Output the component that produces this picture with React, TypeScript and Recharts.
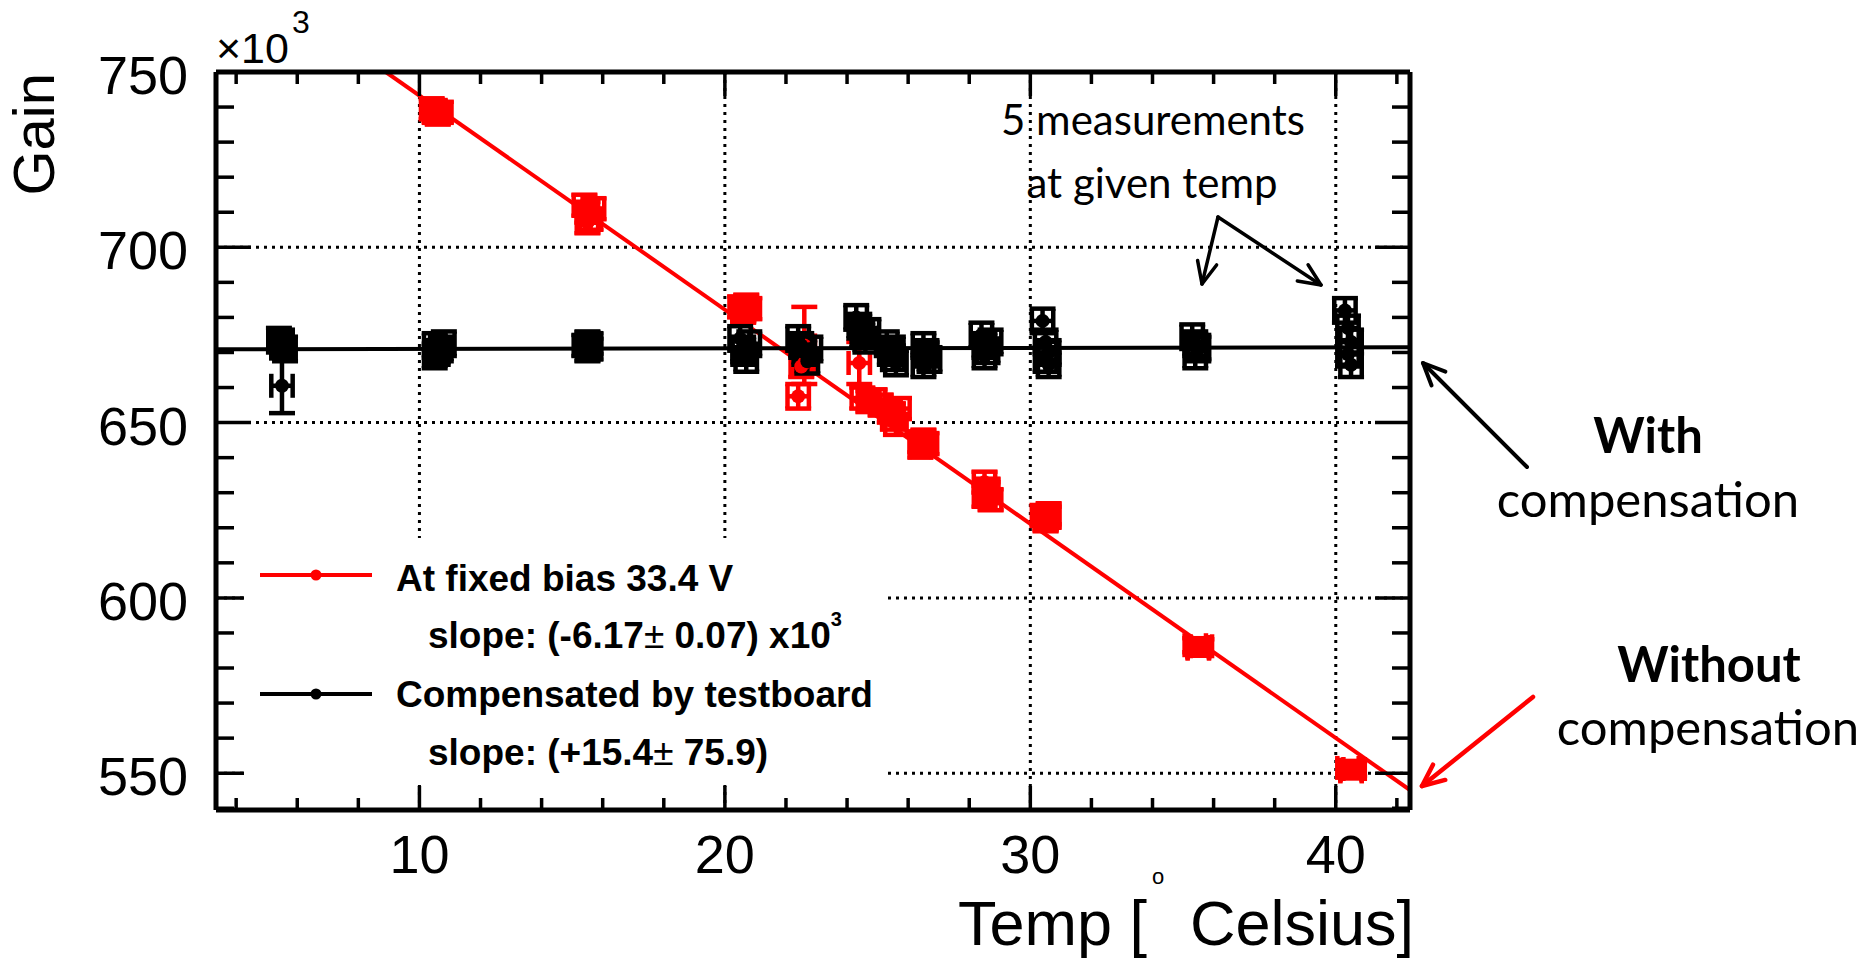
import { ComposedChart, Scatter, Line, XAxis, YAxis, CartesianGrid, ErrorBar } from 'recharts'

const RED = '#ff0000'
const FONT = '"Liberation Sans", Arial, Helvetica, sans-serif'
const NOTE_FONT = 'Lato, "Open Sans", sans-serif'

// gain in units of 10^3, temperature in Celsius
// at fixed bias 33.4 V
const redTemp = [
  10.4, 10.5, 10.6, 10.5, 10.7,
  15.4, 15.5, 15.6, 15.5, 15.7,
  20.5, 20.6, 20.7, 20.6, 20.8,
  22.4, 22.5, 22.6, 22.6,
  24.4, 24.5, 24.7, 24.9, 25.1,
  25.4, 25.5, 25.6, 25.5, 25.7,
  26.4, 26.5, 26.6, 26.5, 26.4,
  28.5, 28.6, 28.5, 28.7, 28.6,
  30.4, 30.5, 30.6, 30.5, 30.6,
  35.4, 35.5, 35.5, 35.6, 35.5,
  40.4, 40.5, 40.5, 40.6, 40.5,
]
const redGain = [
  739.5, 738.5, 738, 739, 738.5,
  712, 710, 708, 707, 711,
  683, 682, 683.5, 681.5, 682.5,
  657.5, 666, 667, 672,
  667, 657, 656, 656.5, 655,
  653, 651, 649.5, 652.5, 654,
  644.5, 643.5, 644, 645, 643,
  633, 631, 629, 628, 630,
  623.5, 622.5, 623, 622, 624,
  586.5, 586, 585.5, 586.2, 585.8,
  551.5, 550.5, 551, 551.2, 550.8,
]
const redErrGain = [
  3, 3, 3, 3, 3,
  3, 3, 3, 3, 3,
  3, 3, 3, 3, 3,
  3.5, 3, 3, 11,
  6, 3, 3, 3, 3,
  3, 3, 3, 3, 3,
  3, 3, 3, 3, 3,
  3, 3, 3, 3, 3,
  3, 3, 3, 3, 3,
  2, 2, 2, 2, 2,
  2, 2, 2, 2, 2,
]

// compensated by testboard
const blackTemp = [
  5.4, 5.5, 5.6, 5.5, 5.5,
  10.5, 10.6, 10.7, 10.5, 10.8,
  15.4, 15.5, 15.6, 15.5, 15.6,
  20.5, 20.6, 20.7, 20.6, 20.8,
  22.4, 22.5, 22.6, 22.7, 22.8,
  24.3, 24.4, 24.5, 24.6, 24.7,
  25.3, 25.4, 25.5, 25.6, 25.5,
  26.5, 26.6, 26.7, 26.5, 26.6,
  28.4, 28.5, 28.6, 28.5, 28.7,
  30.4, 30.5, 30.6, 30.5, 30.6,
  35.3, 35.4, 35.5, 35.4, 35.5,
  40.3, 40.4, 40.5, 40.4, 40.5,
]
const blackGain = [
  673.5, 672, 671, 673, 660.5,
  672, 670, 671, 669, 672.5,
  672, 673, 671, 670.5, 672.5,
  674, 671, 668, 670, 672.5,
  674, 672, 670, 667.5, 671,
  680, 677.5, 675, 673.5, 676,
  672.5, 670, 668.5, 667, 671,
  672, 670, 668, 666.5, 669.5,
  675, 672, 670.5, 669, 673,
  679, 673, 670, 668, 666.5,
  674.5, 672.5, 671, 669, 671.5,
  682, 677, 673, 669.5, 666.5,
]
const blackErrGain = [
  3.5, 3.5, 3.5, 3.5, 7.8,
  3.5, 3.5, 3.5, 3.5, 3.5,
  3, 3, 3, 3, 3,
  3.5, 3.5, 3.5, 3.5, 3.5,
  3.5, 3.5, 3.5, 3.5, 3.5,
  3.5, 3.5, 3.5, 3.5, 3.5,
  3.5, 3.5, 3.5, 3.5, 3.5,
  3.5, 3.5, 3.5, 3.5, 3.5,
  3.5, 3.5, 3.5, 3.5, 3.5,
  3.5, 3.5, 3.5, 3.5, 3.5,
  3.5, 3.5, 3.5, 3.5, 3.5,
  3.5, 3.5, 3.5, 3.5, 3.5,
]
const errTemp = 0.35

// linear fits
const redFitTemp = [8.9, 42.43]
const redFitGain = [750, 545.2]
const blackFitTemp = [3.34, 42.43]
const blackFitGain = [670.9, 671.5]

const xDomain = [3.34, 42.43]
const yDomain = [539.5, 750]
const xTicks = [4, 6, 8, 10, 12, 14, 16, 18, 20, 22, 24, 26, 28, 30, 32, 34, 36, 38, 40, 42]
const yTicks = [540, 550, 560, 570, 580, 590, 600, 610, 620, 630, 640, 650, 660, 670, 680, 690, 700, 710, 720, 730, 740, 750]
const gridX = [10, 20, 30, 40]
const gridY = [550, 600, 650, 700]

const redData = redTemp.map((x, i) => ({ x, y: redGain[i], ex: errTemp, ey: redErrGain[i] }))
const blackData = blackTemp.map((x, i) => ({ x, y: blackGain[i], ex: errTemp, ey: blackErrGain[i] }))
const redFit = redFitTemp.map((x, i) => ({ x, y: redFitGain[i] }))
const blackFit = blackFitTemp.map((x, i) => ({ x, y: blackFitGain[i] }))

const TICK_W = 3.5
const AXIS = { stroke: '#000', strokeWidth: 5 }

function BottomTick(p: any) {
  const v = p.payload.value
  const major = v % 10 === 0
  return (
    <g>
      <line x1={p.x} x2={p.x} y1={p.y} y2={p.y - (major ? 24 : 12)} stroke="#000" strokeWidth={TICK_W} />
      {major && (
        <text x={p.x} y={p.y + 63} textAnchor="middle" fontSize={54} fontFamily={FONT} fill="#000">
          {v}
        </text>
      )}
    </g>
  )
}

function TopTick(p: any) {
  const v = p.payload.value
  const major = v % 10 === 0
  return <line x1={p.x} x2={p.x} y1={p.y} y2={p.y + (major ? 24 : 12)} stroke="#000" strokeWidth={TICK_W} />
}

function LeftTick(p: any) {
  const v = p.payload.value
  const major = v % 50 === 0
  return (
    <g>
      <line x1={p.x} x2={p.x + (major ? 35 : 18)} y1={p.y} y2={p.y} stroke="#000" strokeWidth={TICK_W} />
      {major && (
        <text x={p.x - 28} y={p.y + 22} textAnchor="end" fontSize={54} fontFamily={FONT} fill="#000">
          {v}
        </text>
      )}
    </g>
  )
}

function RightTick(p: any) {
  const v = p.payload.value
  const major = v % 50 === 0
  return <line x1={p.x} x2={p.x - (major ? 35 : 18)} y1={p.y} y2={p.y} stroke="#000" strokeWidth={TICK_W} />
}

const dot = (color: string) => (p: any) => <circle cx={p.cx} cy={p.cy} r={7} fill={color} />

function Arrow({ x1, y1, x2, y2, color, w }: { x1: number; y1: number; x2: number; y2: number; color: string; w: number }) {
  const a = Math.atan2(y2 - y1, x2 - x1)
  const len = 24
  const spread = 0.42
  const p1 = [x2 - len * Math.cos(a - spread), y2 - len * Math.sin(a - spread)]
  const p2 = [x2 - len * Math.cos(a + spread), y2 - len * Math.sin(a + spread)]
  return (
    <g stroke={color} strokeWidth={w} fill="none" strokeLinecap="round" strokeLinejoin="round">
      <line x1={x1} y1={y1} x2={x2} y2={y2} />
      <polyline points={`${p1[0]},${p1[1]} ${x2},${y2} ${p2[0]},${p2[1]}`} />
    </g>
  )
}

export default function App() {
  return (
    <div style={{ position: 'absolute', left: 0, top: 0, width: 1876, height: 959, background: '#fff' }}>
      <ComposedChart width={1876} height={959} margin={{ top: 71, right: 465, bottom: 148, left: 215 }}>
        <CartesianGrid
          verticalValues={gridX}
          horizontalValues={gridY}
          stroke="#000"
          strokeWidth={3}
          strokeDasharray="3 5"
        />
        <XAxis
          dataKey="x"
          type="number"
          domain={xDomain}
          allowDataOverflow
          ticks={xTicks}
          interval={0}
          height={1}
          tickSize={0}
          tickMargin={0}
          tick={BottomTick}
          axisLine={AXIS}
          tickLine={false}
        />
        <XAxis
          xAxisId="top"
          orientation="top"
          dataKey="x"
          type="number"
          domain={xDomain}
          allowDataOverflow
          ticks={xTicks}
          interval={0}
          height={1}
          tickSize={0}
          tickMargin={0}
          tick={TopTick}
          axisLine={AXIS}
          tickLine={false}
        />
        <YAxis
          type="number"
          domain={yDomain}
          allowDataOverflow
          ticks={yTicks}
          interval={0}
          width={1}
          tickSize={0}
          tickMargin={0}
          tick={LeftTick}
          axisLine={AXIS}
          tickLine={false}
        />
        <YAxis
          yAxisId="right"
          orientation="right"
          type="number"
          domain={yDomain}
          allowDataOverflow
          ticks={yTicks}
          interval={0}
          width={1}
          tickSize={0}
          tickMargin={0}
          tick={RightTick}
          axisLine={AXIS}
          tickLine={false}
        />
        <Line
          data={redFit}
          dataKey="y"
          stroke={RED}
          strokeWidth={4}
          dot={false}
          activeDot={false}
          isAnimationActive={false}
        />
        <Scatter data={redData} dataKey="y" fill={RED} shape={dot(RED)} isAnimationActive={false}>
          <ErrorBar dataKey="ey" direction="y" width={13} stroke={RED} strokeWidth={4.5} isAnimationActive={false} />
          <ErrorBar dataKey="ex" direction="x" width={12} stroke={RED} strokeWidth={4.5} isAnimationActive={false} />
        </Scatter>
        <Line
          data={blackFit}
          xAxisId="top"
          yAxisId="right"
          dataKey="y"
          stroke="#000"
          strokeWidth={4}
          dot={false}
          activeDot={false}
          isAnimationActive={false}
        />
        <Scatter data={blackData} dataKey="y" fill="#000" shape={dot('#000')} isAnimationActive={false}>
          <ErrorBar dataKey="ey" direction="y" width={13} stroke="#000" strokeWidth={4.5} isAnimationActive={false} />
          <ErrorBar dataKey="ex" direction="x" width={12} stroke="#000" strokeWidth={4.5} isAnimationActive={false} />
        </Scatter>
      </ComposedChart>

      <svg width={1876} height={959} style={{ position: 'absolute', left: 0, top: 0, pointerEvents: 'none' }}>
        {/* axis titles */}
        <text transform="translate(54,73) rotate(-90)" textAnchor="end" fontSize={58} fontFamily={FONT} fill="#000">
          Gain
        </text>
        <text x={216} y={63} fontSize={43} fontFamily={FONT} fill="#000">×10</text>
        <text x={292} y={33} fontSize={32} fontFamily={FONT} fill="#000">3</text>
        <text x={958} y={945} fontSize={63} fontFamily={FONT} fill="#000">Temp [</text>
        <text x={1152} y={884} fontSize={22} fontFamily={FONT} fill="#000">o</text>
        <text x={1414} y={945} textAnchor="end" fontSize={63} fontFamily={FONT} fill="#000">Celsius]</text>

        {/* legend */}
        <rect x={244} y={538} width={640} height={247} fill="#fff" />
        <g fontFamily={FONT} fontWeight="bold" fontSize={37} fill="#000">
          <line x1={260} x2={372} y1={575} y2={575} stroke={RED} strokeWidth={4} />
          <circle cx={316} cy={575} r={5.5} fill={RED} />
          <text x={396} y={591}>At fixed bias 33.4 V</text>
          <text x={428} y={648}>
            slope: (-6.17<tspan fontWeight="normal">±</tspan> 0.07) x10
            <tspan fontSize={20} dy={-22}>3</tspan>
          </text>
          <line x1={260} x2={372} y1={694} y2={694} stroke="#000" strokeWidth={4} />
          <circle cx={316} cy={694} r={5.5} fill="#000" />
          <text x={396} y={707}>Compensated by testboard</text>
          <text x={428} y={765}>
            slope: (+15.4<tspan fontWeight="normal">±</tspan> 75.9)
          </text>
        </g>

        {/* annotations */}
        <g fontFamily={NOTE_FONT} fill="#000" textAnchor="middle">
          <text x={1153} y={135} fontSize={42}>5 measurements</text>
          <text x={1152} y={198} fontSize={42}>at given temp</text>
          <text x={1648} y={453} fontSize={49} fontWeight="bold">With</text>
          <text x={1648} y={517} fontSize={49}>compensation</text>
          <text x={1709} y={682} fontSize={49} fontWeight="bold">Without</text>
          <text x={1708} y={745} fontSize={49}>compensation</text>
        </g>
        <Arrow x1={1218} y1={217} x2={1202} y2={284} color="#000" w={3.5} />
        <Arrow x1={1218} y1={217} x2={1321} y2={285} color="#000" w={3.5} />
        <Arrow x1={1527} y1={467} x2={1423} y2={363} color="#000" w={4} />
        <Arrow x1={1533} y1={697} x2={1422} y2={786} color={RED} w={4.5} />
      </svg>
    </div>
  )
}
